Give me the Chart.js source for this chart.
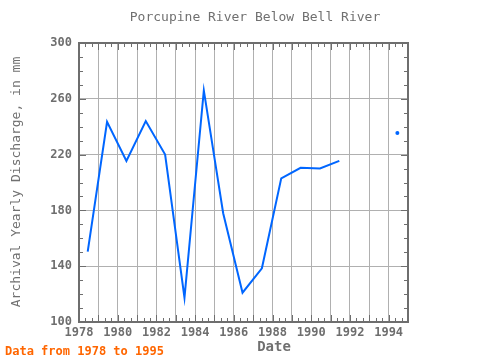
<!DOCTYPE html>
<html><head><meta charset="utf-8">
<script src="https://cdn.jsdelivr.net/npm/chart.js@4/dist/chart.umd.min.js"></script>
<style>html,body{margin:0;padding:0;background:#fff;}#wrap{width:480px;height:360px;position:relative;}</style>
</head><body><div id="wrap"><canvas id="c" width="480" height="360"></canvas></div>
<script>
const years = [1978,1979,1980,1981,1982,1983,1984,1985,1986,1987,1988,1989,1990,1991,1992,1993,1994];
const discharge = [150.5,243.5,215.5,244,220,117.5,266,178,121,138.5,203,210.5,210,215.5,null,null,235.5];
const yTicks = [100,140,180,220,260,300];
const xLabelYears = [1978,1980,1982,1984,1986,1988,1990,1992,1994];
const titleText = 'Porcupine River Below Bell River';
const yTitle = 'Archival Yearly Discharge, in mm';
const xTitle = 'Date';
const footer = 'Data from 1978 to 1995';

const GRAY = '#6e6e6e';
const FONT = '"DejaVu Sans Mono", "Liberation Mono", monospace';
const pts = years.map((y,i)=>({x:y+0.45, y:discharge[i]}));

const deco = {
  id:'deco',
  afterDraw(chart){
    const ctx = chart.ctx, a = chart.chartArea;
    const xs = chart.scales.x, ys = chart.scales.y;
    ctx.save();
    ctx.strokeStyle = GRAY; ctx.lineWidth = 1;
    // x ticks: major each year, minor each 1/3 year
    for (let k = 1978*3; k <= 1995*3; k++) {
      const v = k/3; const px = Math.round(xs.getPixelForValue(v)) + 0.5;
      const len = (k % 3 === 0) ? 7 : 4;
      ctx.beginPath(); ctx.moveTo(px, a.bottom); ctx.lineTo(px, a.bottom - len);
      ctx.moveTo(px, a.top); ctx.lineTo(px, a.top + len); ctx.stroke();
    }
    for (let v = 100; v <= 300; v += 10) {
      const py = Math.round(ys.getPixelForValue(v)) + 0.5;
      const len = (v % 40 === 20) ? 7 : 4;
      ctx.beginPath(); ctx.moveTo(a.left, py); ctx.lineTo(a.left + len, py);
      ctx.moveTo(a.right, py); ctx.lineTo(a.right - len, py); ctx.stroke();
    }
    ctx.lineWidth = 2;
    ctx.strokeRect(a.left, a.top, a.right - a.left, a.bottom - a.top);
    // texts
    ctx.fillStyle = '#707070';
    ctx.textAlign = 'center'; ctx.textBaseline = 'middle';
    ctx.font = '13px ' + FONT;
    ctx.fillText(titleText, 255, 18);
    ctx.save();
    ctx.translate(17, 182); ctx.rotate(-Math.PI/2);
    ctx.fillText(yTitle, 0, 0);
    ctx.restore();
    ctx.font = 'bold 14px ' + FONT;
    ctx.fillText(xTitle, 274, 347);
    ctx.fillStyle = '#ff6600';
    ctx.textAlign = 'left';
    ctx.font = 'bold 12px ' + FONT;
    ctx.fillText(footer, 5, 352);
    ctx.restore();
  }
};

new Chart(document.getElementById('c'), {
  type:'line',
  data:{datasets:[{
    data: pts,
    borderColor:'#0066ff', backgroundColor:'#0066ff', borderWidth:2,
    spanGaps:false, tension:0,
    pointRadius: c => {
      const i = c.dataIndex, d = discharge;
      if (d[i] == null) return 0;
      const prev = i > 0 ? d[i-1] : null, next = i < d.length-1 ? d[i+1] : null;
      return (prev == null && next == null) ? 2 : 0;
    },
    pointBorderWidth:0, pointHoverRadius:0
  }]},
  options:{
    responsive:false, animation:false, events:[],
    layout:{padding:{left:0, top:43, right:72, bottom:0}},
    plugins:{legend:{display:false}, tooltip:{enabled:false}, title:{display:false}},
    scales:{
      x:{type:'linear', min:1978, max:1995,
        afterFit: s => { s.height = 38; },
        afterBuildTicks: s => { s.ticks = years.concat([1995]).map(v=>({value:v})); },
        grid:{color:'#b0b0b0', lineWidth:1, drawTicks:false},
        border:{display:false},
        ticks:{autoSkip:false, maxRotation:0, padding:4, color:GRAY,
          font:{family:FONT, size:12, weight:'bold'},
          callback: v => xLabelYears.includes(v) ? String(v) : ''}
      },
      y:{min:100, max:300,
        afterFit: s => { s.width = 79; },
        afterBuildTicks: s => { s.ticks = yTicks.map(v=>({value:v})); },
        grid:{color:'#b0b0b0', lineWidth:1, drawTicks:false},
        border:{display:false},
        ticks:{padding:7, color:GRAY, font:{family:FONT, size:12, weight:'bold'}}
      }
    }
  },
  plugins:[deco]
});
</script></body></html>
